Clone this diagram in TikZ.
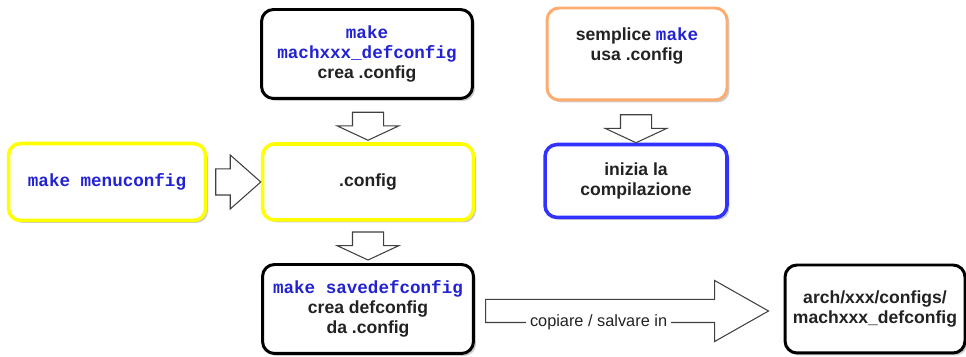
\documentclass[tikz,border=0pt]{standalone}
\usepackage{fontspec}
\setmainfont{Liberation Sans}
\setmonofont{Liberation Mono}
\usetikzlibrary{shapes.arrows}
\usetikzlibrary{shadows}
\usetikzlibrary{calc}
\usetikzlibrary{positioning}
\definecolor{cblue}{RGB}{34,34,210}
\definecolor{byellow}{RGB}{255,255,0}
\definecolor{borange}{RGB}{255,172,112}
\definecolor{bblue}{RGB}{50,50,255}
\definecolor{tgray}{RGB}{34,34,34}
\newcommand{\cmd}[1]{{\ttfamily\color{cblue}#1}}

\begin{document}
\begin{tikzpicture}[x=0.02cm, y=-0.02cm,
    box/.style={draw, rounded corners=0.24cm, line width=1.7pt, align=center,
      font=\fontsize{10}{11.4}\selectfont\bfseries, text=tgray, fill=white,
      drop shadow={shadow xshift=0.05cm, shadow yshift=-0.05cm, fill=black!40, opacity=0.5}},
    varrow/.style={single arrow, draw=black!75, line width=0.6pt, fill=white, rotate=-90,
      inner xsep=0pt, inner ysep=0.3cm, outer sep=0pt, single arrow head extend=0.31cm,
      single arrow tip angle=130, minimum height=0.56cm, minimum width=1.22cm},
  ]
  \useasboundingbox (0,0) rectangle (966,357);

  % boxes
  \node [box, minimum width=4.22cm, minimum height=1.78cm] (defc) at (367,54)
    {\cmd{make}\\\cmd{machxxx\_defconfig}\\crea .config};
  \node [box, draw=borange, minimum width=3.6cm, minimum height=1.84cm] (semp) at (637,54)
    {semplice \cmd{make}\\usa .config\\\mbox{}};
  \node [box, draw=byellow, line width=2pt, minimum width=3.94cm, minimum height=1.54cm] (menu) at (107,182)
    {\cmd{make menuconfig}};
  \node [box, draw=byellow, line width=2pt, minimum width=4.22cm, minimum height=1.52cm] (cfg) at (368,182)
    {.config};
  \node [box, draw=bblue, line width=2pt, minimum width=3.64cm, minimum height=1.46cm] (iniz) at (636,181)
    {inizia la\\compilazione};
  \node [box, minimum width=4.22cm, minimum height=1.78cm] (save) at (368,309)
    {\cmd{make savedefconfig}\\crea defconfig\\da .config};
  \node [box, minimum width=3.6cm, minimum height=1.76cm] (arch) at (875,309)
    {arch/xxx/configs/\\machxxx\_defconfig};

  % block arrows
  \node [varrow, anchor=tip] (a1) at ($(cfg.north)+(0,0.04cm)$) {};
  \node [varrow, anchor=tip] (a2) at (iniz.north) {};
  \node [varrow, anchor=tip] (a3) at ($(save.north)+(0,0.06cm)$) {};
  \node [single arrow, draw=black!75, line width=0.6pt, fill=white, anchor=tip,
    inner xsep=0pt, inner ysep=0.25cm, outer sep=0pt, single arrow head extend=0.28cm,
    single arrow tip angle=83, minimum height=0.9cm, minimum width=1.06cm] (am) at (cfg.west) {};
  \node [single arrow, draw=black!75, line width=0.6pt, fill=white, anchor=tip,
    inner xsep=0pt, inner ysep=0.22cm, outer sep=0pt, single arrow head extend=0.38cm,
    single arrow tip angle=59, minimum height=5.66cm, minimum width=1.2cm] (acopy) at ($(arch.west)+(-0.3cm,-0.04cm)$) {};
  \node [fill=white, inner sep=2pt, text=tgray, font=\fontsize{9.3}{11}\selectfont]
    (lbl) at ($(acopy.tail)+(2.26cm,-0.22cm)$) {copiare / salvare in};
\end{tikzpicture}
\end{document}
